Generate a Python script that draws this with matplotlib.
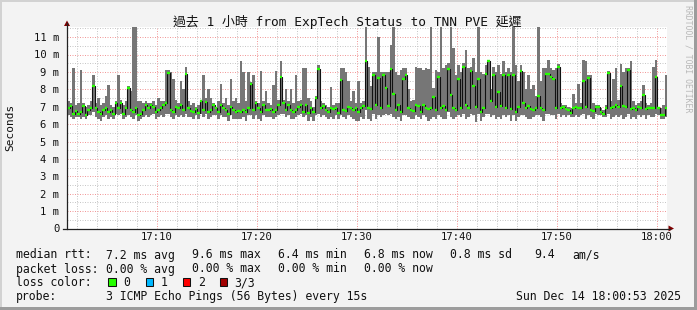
import matplotlib
matplotlib.use("Agg")
import matplotlib.pyplot as plt
from matplotlib.patches import Rectangle, Polygon
from matplotlib.lines import Line2D
import numpy as np

plt.rcParams["font.family"] = ["DejaVu Sans Mono", "Noto Sans CJK TC"]

W, H = 697, 310

# ---------------- data ----------------
START_MIN = 1.0      # first sample at 17:01 (minutes after 17:00)
STEP_MIN = 0.25      # one sample every 15 s

ping_min = [
    6.5, 6.4, 6.3, 6.4, 6.4, 6.3, 6.4, 6.3, 6.5, 6.5,
    6.7, 6.4, 6.3, 6.2, 6.4, 6.5, 6.3, 6.4, 6.3, 6.6,
    6.5, 6.6, 6.3, 6.4, 6.5, 6.4, 6.3, 6.5, 6.2, 6.3,
    6.4, 6.5, 6.4, 6.5, 6.6, 6.3, 6.4, 6.5, 6.4, 6.6,
    6.6, 6.4, 6.3, 6.5, 6.4, 6.5, 6.4, 6.6, 6.4, 6.4,
    6.3, 6.5, 6.3, 6.6, 6.4, 6.6, 6.3, 6.4, 6.5, 6.5,
    6.3, 6.5, 6.4, 6.4, 6.2, 6.5, 6.3, 6.3, 6.3, 6.3,
    6.4, 6.2, 6.5, 6.5, 6.3, 6.5, 6.3, 6.2, 6.5, 6.4,
    6.4, 6.4, 6.3, 6.4, 6.5, 6.6, 6.6, 6.4, 6.5, 6.3,
    6.3, 6.4, 6.5, 6.6, 6.4, 6.5, 6.2, 6.4, 6.2, 6.5,
    6.6, 6.4, 6.5, 6.4, 6.3, 6.4, 6.3, 6.5, 6.3, 6.5,
    6.4, 6.3, 6.5, 6.4, 6.3, 6.2, 6.2, 6.4, 6.3, 6.8,
    6.3, 6.2, 6.6, 6.3, 6.5, 6.4, 6.5, 6.6, 6.5, 6.6,
    6.4, 6.3, 6.4, 6.2, 6.5, 6.5, 6.4, 6.3, 6.3, 6.5,
    6.4, 6.3, 6.5, 6.4, 6.2, 6.3, 6.4, 6.3, 6.5, 6.4,
    6.3, 6.3, 6.7, 6.4, 6.3, 6.4, 6.5, 6.4, 6.6, 6.3,
    6.4, 6.6, 6.5, 6.1, 6.6, 6.2, 6.4, 6.6, 6.6, 6.4,
    6.5, 6.3, 6.4, 6.3, 6.5, 6.4, 6.5, 6.2, 6.5, 6.2,
    6.4, 6.5, 6.5, 6.4, 6.3, 6.3, 6.4, 6.5, 6.5, 6.4,
    6.2, 6.6, 6.6, 6.5, 6.5, 6.3, 6.6, 6.4, 6.5, 6.4,
    6.5, 6.4, 6.4, 6.5, 6.4, 6.5, 6.6, 6.3, 6.5, 6.4,
    6.3, 6.6, 6.5, 6.5, 6.4, 6.4, 6.6, 6.3, 6.4, 6.5,
    6.4, 6.5, 6.3, 6.4, 6.6, 6.3, 6.4, 6.3, 6.5, 6.4,
    6.5, 6.3, 6.5, 6.4, 6.4, 6.6, 6.5, 6.3, 6.3, 6.4,
]

ping_med = [
    6.9, 7.05, 6.6, 6.75, 6.6, 6.7, 7.05, 6.55, 6.8, 6.95,
    8.2, 6.9, 6.7, 6.6, 6.8, 6.9, 6.7, 6.8, 6.6, 7.2,
    6.9, 7.2, 6.6, 6.9, 8.1, 6.8, 6.7, 6.9, 6.5, 6.6,
    6.8, 7.1, 6.9, 7.1, 7.0, 6.7, 6.8, 6.9, 7.1, 7.2,
    8.95, 6.8, 6.7, 7.0, 6.9, 7.1, 6.8, 8.9, 6.9, 6.75,
    6.7, 6.85, 6.65, 7.3, 6.8, 7.25, 6.7, 6.8, 7.1, 6.9,
    6.7, 7.1, 6.9, 6.8, 6.6, 7.0, 6.8, 6.7, 6.75, 6.7,
    6.8, 6.7, 6.9, 8.3, 6.8, 7.2, 6.9, 6.7, 7.1, 6.8,
    6.8, 6.85, 6.7, 6.8, 7.1, 8.7, 7.2, 6.8, 7.1, 6.8,
    6.7, 6.8, 7.0, 7.1, 6.7, 7.1, 6.65, 6.9, 6.7, 7.5,
    9.15, 6.9, 7.05, 6.8, 6.7, 6.9, 6.85, 6.9, 6.65, 8.55,
    6.8, 6.75, 7.0, 6.9, 6.8, 6.9, 6.7, 6.95, 7.05, 9.6,
    6.95, 6.85, 8.8, 7.1, 8.65, 6.9, 8.8, 8.1, 7.05, 9.15,
    7.75, 6.8, 7.1, 6.7, 8.6, 8.8, 6.9, 6.8, 6.75, 7.1,
    7.05, 6.7, 7.1, 6.9, 6.85, 6.9, 7.55, 6.8, 8.7, 6.9,
    7.05, 6.8, 9.15, 7.7, 6.9, 6.8, 8.6, 6.9, 9.3, 7.1,
    6.95, 9.05, 8.2, 7.0, 8.6, 6.7, 6.9, 8.9, 9.6, 7.3,
    8.85, 7.0, 7.85, 7.05, 8.85, 6.9, 8.85, 6.85, 8.85, 6.7,
    7.0, 9.05, 7.2, 6.9, 7.05, 6.85, 6.8, 6.9, 7.6, 6.9,
    6.8, 8.9, 8.9, 8.7, 8.6, 6.9, 9.3, 6.95, 7.0, 6.85,
    6.8, 6.65, 6.9, 7.0, 6.9, 6.95, 8.5, 7.0, 8.65, 6.8,
    6.75, 7.0, 7.0, 6.7, 6.6, 6.9, 8.95, 6.9, 7.0, 7.1,
    7.0, 8.2, 7.05, 7.0, 9.1, 6.85, 6.95, 6.8, 7.0, 6.9,
    7.65, 6.85, 6.95, 6.9, 6.9, 8.7, 6.95, 6.55, 6.55, 6.9,
]

ping_max = [
    7.3, 7.2, 9.2, 7.1, 7.2, 9.1, 7.2, 7.0, 7.1, 7.3,
    8.8, 7.2, 7.5, 7.1, 7.2, 7.6, 8.25, 7.1, 7.0, 7.3,
    8.8, 7.4, 7.1, 7.3, 8.2, 7.9, 11.6, 11.6, 7.3, 7.3,
    7.2, 7.3, 7.2, 7.2, 7.3, 7.1, 7.5, 7.3, 7.3, 9.1,
    9.1, 9.0, 8.6, 7.4, 7.2, 8.5, 8.0, 9.3, 7.3, 7.1,
    7.2, 7.0, 7.1, 7.4, 8.85, 7.5, 8.0, 7.5, 7.2, 7.0,
    7.3, 8.3, 7.2, 7.5, 7.1, 8.6, 7.3, 7.5, 7.2, 9.6,
    9.0, 7.3, 9.0, 8.4, 8.8, 7.3, 7.2, 9.05, 7.3, 7.9,
    7.2, 7.1, 8.25, 9.05, 7.4, 9.6, 7.4, 8.0, 7.3, 8.0,
    7.2, 8.8, 7.3, 7.4, 9.2, 9.2, 7.5, 7.3, 7.0, 7.6,
    9.4, 7.3, 7.2, 7.1, 7.0, 8.15, 7.1, 7.2, 7.2, 9.2,
    9.2, 9.0, 8.5, 7.3, 7.9, 7.2, 8.5, 7.2, 7.3, 11.6,
    9.3, 8.2, 9.0, 9.0, 11.0, 9.0, 9.0, 9.0, 9.0, 10.55,
    11.6, 9.0, 8.8, 9.1, 9.2, 9.2, 8.0, 7.3, 7.4, 9.3,
    9.2, 9.2, 9.1, 9.2, 9.15, 11.6, 8.1, 9.1, 9.0, 11.6,
    9.2, 9.4, 9.5, 11.6, 10.35, 8.8, 9.4, 9.0, 9.5, 10.25,
    9.2, 9.3, 9.8, 9.0, 11.6, 9.0, 8.9, 9.4, 9.7, 8.0,
    9.3, 9.0, 9.4, 8.9, 9.6, 9.0, 9.2, 9.0, 11.6, 9.4,
    8.5, 9.4, 9.0, 8.0, 8.8, 8.0, 8.25, 7.6, 11.6, 8.5,
    9.2, 9.2, 9.7, 9.2, 9.1, 9.2, 9.45, 7.2, 7.1, 7.1,
    7.0, 6.9, 7.75, 7.2, 8.3, 7.2, 9.7, 9.6, 8.8, 8.8,
    7.2, 7.1, 7.1, 6.9, 6.8, 7.1, 9.05, 7.3, 8.6, 9.2,
    7.4, 9.45, 9.0, 9.2, 9.2, 9.6, 7.3, 7.1, 7.2, 7.3,
    8.25, 7.2, 7.1, 7.2, 9.3, 9.7, 7.0, 6.9, 7.1, 8.8,
]

x_tick_pos = [10, 20, 30, 40, 50, 60]
x_tick_labels = ["17:10", "17:20", "17:30", "17:40", "17:50", "18:00"]
y_tick_pos = [0, 1, 2, 3, 4, 5, 6, 7, 8, 9, 10, 11]
y_tick_labels = ["0", "1 m", "2 m", "3 m", "4 m", "5 m", "6 m", "7 m",
                 "8 m", "9 m", "10 m", "11 m"]

title = "過去 1 小時 from ExpTech Status to TNN PVE 延遲"
y_label = "Seconds"
legend_rtt = ["median rtt:", "7.2 ms avg", "9.6 ms max", "6.4 ms min",
              "6.8 ms now", "0.8 ms sd", "9.4", "am/s"]
legend_loss = ["packet loss:", "0.00 % avg", "0.00 % max", "0.00 % min",
               "0.00 % now"]
loss_color_labels = ["0", "1", "2", "3/3"]
loss_colors = ["#26ff00", "#00b8ff", "#ff0000", "#a10000"]
probe_text = ["probe:", "3 ICMP Echo Pings (56 Bytes) every 15s"]
stamp = "Sun Dec 14 18:00:53 2025"
credit = "RRDTOOL / TOBI OETIKER"

# ---------------- figure ----------------
fig = plt.figure(figsize=(W / 100, H / 100), dpi=100, facecolor="#f3f3f3")


def fx(x):
    return x / W


def fy(y):
    return 1 - y / H


# plot area: x 67..667 px, y 27..228.5 px
ax = fig.add_axes([fx(67), fy(228.5), 600 / W, (228.5 - 27) / H])
ax.set_facecolor("white")
ax.set_xlim(START_MIN, START_MIN + 60)
ax.set_ylim(0, (228.5 - 27) / 17.4)

# grid
ax.set_xticks(x_tick_pos)
ax.set_xticks(np.arange(2, 62, 2), minor=True)
ax.set_yticks(y_tick_pos)
ax.set_yticks(np.arange(0.5, 11.6, 1.0), minor=True)
ax.grid(True, which="minor", color="#c8c8c8", lw=0.72, ls=(0, (1, 1.5)), zorder=0)
ax.grid(True, which="major", color="#f29a9a", lw=0.72, ls=(0, (1, 1.5)), zorder=0)
ax.tick_params(which="both", length=0)
ax.set_xticklabels(x_tick_labels, fontsize=7.6, color="#111111")
ax.set_yticklabels(y_tick_labels, fontsize=7.6, color="#111111")
ax.tick_params(axis="x", pad=2.2)
ax.tick_params(axis="y", pad=5.4)
for s in ax.spines.values():
    s.set_visible(False)

t = START_MIN + STEP_MIN * np.arange(len(ping_med))
tt = np.append(t, t[-1] + STEP_MIN)
mins = np.append(ping_min, ping_min[-1])
maxs = np.append(ping_max, ping_max[-1])
meds = np.append(ping_med, ping_med[-1])

# smoke
ax.fill_between(tt, mins, maxs, step="post", color="#767676", lw=0, zorder=2)
# median line (black step) and green loss-coloured ticks
ax.step(tt, meds, where="post", color="#111111", lw=0.8, zorder=3)
ax.hlines(ping_med, t, t + STEP_MIN, colors=loss_colors[0], lw=1.7, zorder=4,
          capstyle="butt")

# axes lines and arrows (pixel coordinates)
fig.add_artist(Line2D([fx(67), fx(67)], [fy(228.5), fy(23)], color="#222222",
                      lw=0.9))
fig.add_artist(Line2D([fx(63), fx(670)], [fy(228.5), fy(228.5)], color="#222222",
                      lw=0.9))
fig.add_artist(Polygon([(fx(64), fy(26)), (fx(70), fy(26)), (fx(67), fy(20.5))],
                       closed=True, color="#7f0000", lw=0))
fig.add_artist(Polygon([(fx(668.5), fy(225.5)), (fx(668.5), fy(231.5)),
                        (fx(674), fy(228.5))], closed=True, color="#7f0000", lw=0))

# title and labels
fig.text(fx(347.5), fy(26), title, ha="center", va="baseline", fontsize=9.3,
         color="#111111")
fig.text(fx(10), fy(127), y_label, ha="center", va="center", rotation=90,
         fontsize=8.0, color="#111111")
fig.text(fx(688), fy(59), credit, ha="center", va="center", rotation=-90,
         fontsize=5.9, color="#b8b8b8")

# legend
LFS = 8.3
rtt_x = [15.5, 106.5, 192.5, 278.5, 364.5, 450, 534.5, 572]
for s, x in zip(legend_rtt, rtt_x):
    fig.text(fx(x), fy(258.5), s, ha="left", va="baseline", fontsize=LFS,
             color="#111111")
loss_x = [15.5, 106.5, 192.5, 278.5, 364.5]
for s, x in zip(legend_loss, loss_x):
    fig.text(fx(x), fy(272.5), s, ha="left", va="baseline", fontsize=LFS,
             color="#111111")
fig.text(fx(15.5), fy(286.3), "loss color:", ha="left", va="baseline",
         fontsize=LFS, color="#111111")
box_x = [108, 145.5, 182.5, 219.5]
lab_x = [123.5, 160.5, 198, 234.5]
for c, lbl, bx, lx in zip(loss_colors, loss_color_labels, box_x, lab_x):
    fig.add_artist(Rectangle((fx(bx), fy(285.8)), 7.8 / W, 8.3 / H,
                             facecolor=c, edgecolor="#111111", lw=0.75))
    fig.text(fx(lx), fy(286.3), lbl, ha="left", va="baseline", fontsize=LFS,
             color="#111111")
fig.text(fx(15.5), fy(300.3), probe_text[0], ha="left", va="baseline",
         fontsize=LFS, color="#111111")
fig.text(fx(106.5), fy(300.3), probe_text[1], ha="left", va="baseline",
         fontsize=LFS, color="#111111")
fig.text(fx(680.5), fy(300.3), stamp, ha="right", va="baseline", fontsize=LFS,
         color="#111111")

# 3D-ish border
fig.add_artist(Rectangle((0, fy(2)), 1, 2 / H, facecolor="#d2d2d2", lw=0))
fig.add_artist(Rectangle((0, 0), 2 / W, 1, facecolor="#d2d2d2", lw=0))
fig.add_artist(Rectangle((0, 0), 1, 3 / H, facecolor="#9c9c9c", lw=0))
fig.add_artist(Rectangle((fx(694), 0), 3 / W, 1, facecolor="#9c9c9c", lw=0))

fig.savefig("out.png", dpi=100, facecolor=fig.get_facecolor())
